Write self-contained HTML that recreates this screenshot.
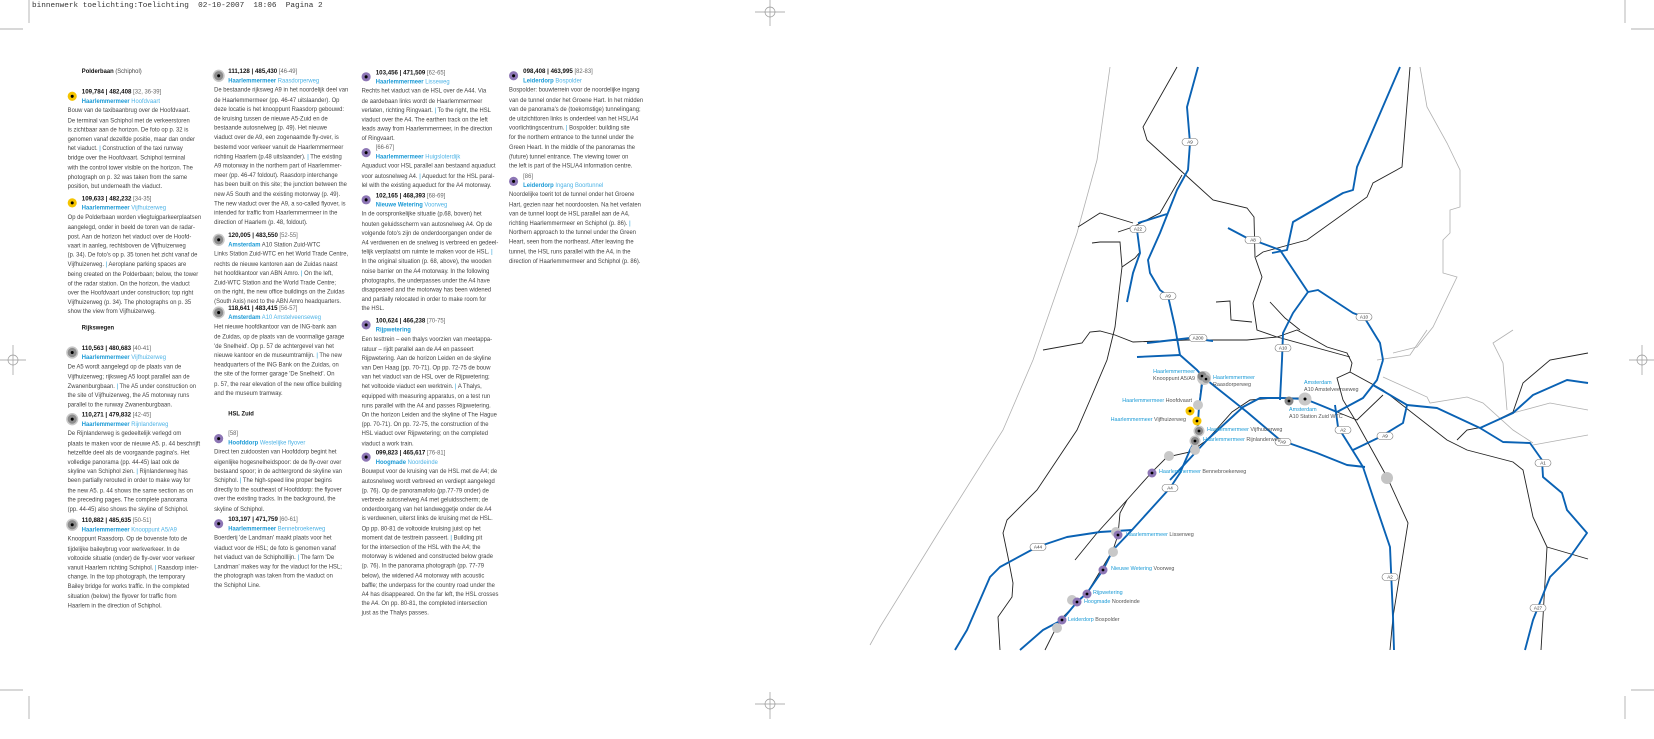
<!DOCTYPE html>
<html><head><meta charset="utf-8"><style>
html,body{margin:0;padding:0;background:#fff;}
body{width:1654px;height:719px;position:relative;overflow:hidden;font-family:"Liberation Sans",sans-serif;}
.hdr{position:absolute;left:32px;top:2px;font:7.7px "Liberation Mono",monospace;color:#333;white-space:pre;}
.txt{position:absolute;left:0;top:0;width:700px;height:719px;transform-origin:0 60px;transform:translate(0,4px) scale(1.01,1.025);}
.blk{position:absolute;font-size:5.8px;line-height:9.2px;color:#444;white-space:nowrap;}
.h{padding-left:14px;}
.h b{color:#111;font-size:6.1px;}
.br{color:#666;}
.nm{color:#1a9ad6;font-weight:bold;}
.lc{color:#4db3e6;}
.p{color:#1a9ad6;}
.sec{color:#111;font-weight:bold;}
.dot{position:absolute;left:0;top:4.4px;width:9px;height:9px;border-radius:50%;}
.dot::after{content:"";position:absolute;left:3px;top:3px;width:3px;height:3px;border-radius:50%;background:#000;}
.y{background:#f5c400;}
.g{background:#8c8c8c;box-shadow:0 0 0 1.5px #c8c8c8;}
.pu{background:#8d76b5;}
svg{position:absolute;left:0;top:0;}
.ml{position:absolute;font-size:5.4px;line-height:7px;white-space:nowrap;color:#555;}
.ml .n{color:#1a9ad6;}
</style></head><body>
<div class="hdr">binnenwerk toelichting:Toelichting  02-10-2007  18:06  Pagina 2</div>

<svg width="1654" height="719" viewBox="0 0 1654 719">
<g stroke="#999" stroke-width="0.7" fill="none">
<line x1="29" y1="0" x2="29" y2="23"/><line x1="0" y1="29" x2="23" y2="29"/>
<line x1="1625" y1="0" x2="1625" y2="23"/><line x1="1631" y1="29" x2="1654" y2="29"/>
<line x1="29" y1="696" x2="29" y2="719"/><line x1="0" y1="690" x2="23" y2="690"/>
<line x1="1625" y1="696" x2="1625" y2="719"/><line x1="1631" y1="690" x2="1654" y2="690"/>
<circle cx="13" cy="360" r="5"/><line x1="0" y1="360" x2="26" y2="360"/><line x1="13" y1="345" x2="13" y2="375"/>
<circle cx="1642" cy="360" r="5"/><line x1="1629" y1="360" x2="1654" y2="360"/><line x1="1642" y1="345" x2="1642" y2="375"/>
<circle cx="770" cy="12" r="5"/><line x1="755" y1="12" x2="785" y2="12"/><line x1="770" y1="0" x2="770" y2="26"/>
<circle cx="770" cy="704" r="5"/><line x1="755" y1="704" x2="785" y2="704"/><line x1="770" y1="692" x2="770" y2="719"/>
</g>
<g stroke="#b0b0b0" stroke-width="0.8" fill="none">
<polyline points="1110,67 1097,160 1077,233 1033,360 1003,430 940,530 880,627 870,645"/>
<polyline points="1420,67 1427,107 1447,143 1460,170 1460,207 1450,210 1450,233 1443,240 1443,273 1457,277 1433,327 1417,347 1393,353"/>
<polyline points="1377,360 1410,355 1427,330"/>
<polyline points="1383,377 1427,397 1430,403 1467,397 1483,403 1513,430 1533,443"/>
<polyline points="1513,330 1493,343 1503,363 1507,410"/>
<polyline points="1513,413 1550,403 1588,410"/>
<polyline points="1533,445 1588,435"/>
</g>
<g stroke="#222" stroke-width="0.9" fill="none">
<polyline points="1177,67 1143,127 1147,140 1180,170 1213,200 1247,208 1254,217 1255,257 1262,277 1253,303 1257,330 1277,337 1297,330 1327,347 1347,353 1352,363 1350,372 1337,378 1343,400 1357,423 1387,477 1408,523 1393,617 1390,650"/>
<polyline points="1182,175 1160,213 1133,227 1118,232"/>
<polyline points="1078,227 1100,213 1133,223"/>
<polyline points="1092,243 1100,242 1120,242 1122,267 1115,327 1107,360 1090,400 1077,430 1037,490 1007,520 1003,533 1008,557 1013,583 1012,597 998,617 1000,650"/>
<polyline points="1122,267 1135,258 1140,252"/>
<polyline points="1043,350 1082,343 1090,332 1100,331 1115,335 1133,342 1187,340 1247,340 1277,337 1350,357"/>
<polyline points="1410,67 1402,167 1373,183 1367,197 1307,240 1263,252 1256,257"/>
<polyline points="1350,372 1383,390 1447,440 1467,450 1513,462 1523,470 1533,517 1547,547 1543,617 1541,650"/>
<polyline points="1547,547 1588,559"/>
<polyline points="1457,440 1467,430 1483,427 1513,412 1523,383 1550,360 1588,353"/>
<polyline points="1337,412 1357,420 1383,395"/>
<polyline points="1216,302 1230,301 1231,320 1252,322"/>
<polyline points="1270,302 1285,318 1300,330"/>
<polyline points="1300,398 1275,398 1250,400 1232,412 1207,440 1190,452 1167,457 1152,472 1127,500 1097,533 1075,560"/>
<polyline points="1202,377 1199,407 1197,437 1195,450"/>
<polyline points="1127,500 1120,513 1118,535 1113,550 1087,593 1060,620 1045,650"/>
</g>
<g stroke="#0a62b4" stroke-width="1.9" fill="none" stroke-linejoin="round">
<polyline points="1198,67 1187,107 1190,143 1188,170 1177,190 1160,233 1148,260 1150,273 1160,290 1168,296 1175,327 1180,355 1197,370 1203,377 1247,412 1280,440 1317,453 1347,465 1365,467"/>
<polyline points="1138,223 1167,214"/>
<polyline points="1137,230 1140,253 1133,273 1127,302"/>
<polyline points="1228,228 1247,238 1253,240 1280,250 1308,292 1318,290 1353,313 1364,317 1380,343 1383,360"/>
<polyline points="1400,67 1357,167 1353,190 1343,193 1293,222 1287,250 1272,253"/>
<polyline points="1308,292 1293,313 1283,333 1282,360 1280,400"/>
<polyline points="1147,343 1190,338 1213,341"/>
<polyline points="1137,357 1180,355"/>
<polyline points="1383,360 1377,380 1363,398 1337,412"/>
<polyline points="1335,405 1338,427 1363,467 1373,497 1390,547 1393,617 1394,650"/>
<polyline points="1353,450 1380,437 1403,423 1407,405 1437,408 1480,428 1503,442 1530,443 1542,460 1543,477 1562,493 1567,510 1587,533 1570,557 1550,577 1533,620 1525,650"/>
<polyline points="1373,385 1407,405"/>
<polyline points="1480,428 1513,413 1533,395 1567,380 1588,383"/>
<polyline points="1203,377 1199,407 1197,437 1190,450 1180,473 1170,488 1132,530 1113,550 1103,570 1087,593 1077,602 1062,620 1043,630 1020,650"/>
<polyline points="1170,480 1207,440 1243,407 1260,398 1283,398 1305,399 1320,405 1337,412"/>
<polyline points="1132,530 1100,532 1067,537 1043,545 1037,547 1000,567 990,577 967,630 955,650"/>
</g>
<g font-family="Liberation Sans, sans-serif" font-size="4.6" text-anchor="middle" fill="#333">
<g transform="translate(1190,142)"><rect x="-8" y="-3.5" width="16" height="7" rx="3.5" fill="#fff" stroke="#777" stroke-width="0.6"/><text y="1.7">A9</text></g>
<g transform="translate(1138,229)"><rect x="-8" y="-3.5" width="16" height="7" rx="3.5" fill="#fff" stroke="#777" stroke-width="0.6"/><text y="1.7">A22</text></g>
<g transform="translate(1253,240)"><rect x="-8" y="-3.5" width="16" height="7" rx="3.5" fill="#fff" stroke="#777" stroke-width="0.6"/><text y="1.7">A8</text></g>
<g transform="translate(1168,296)"><rect x="-8" y="-3.5" width="16" height="7" rx="3.5" fill="#fff" stroke="#777" stroke-width="0.6"/><text y="1.7">A9</text></g>
<g transform="translate(1364,317)"><rect x="-8" y="-3.5" width="16" height="7" rx="3.5" fill="#fff" stroke="#777" stroke-width="0.6"/><text y="1.7">A10</text></g>
<g transform="translate(1198,338)"><rect x="-9" y="-3.5" width="18" height="7" rx="3.5" fill="#fff" stroke="#777" stroke-width="0.6"/><text y="1.7">A200</text></g>
<g transform="translate(1283,348)"><rect x="-8" y="-3.5" width="16" height="7" rx="3.5" fill="#fff" stroke="#777" stroke-width="0.6"/><text y="1.7">A10</text></g>
<g transform="translate(1343,430)"><rect x="-8" y="-3.5" width="16" height="7" rx="3.5" fill="#fff" stroke="#777" stroke-width="0.6"/><text y="1.7">A2</text></g>
<g transform="translate(1385,436)"><rect x="-8" y="-3.5" width="16" height="7" rx="3.5" fill="#fff" stroke="#777" stroke-width="0.6"/><text y="1.7">A9</text></g>
<g transform="translate(1283,442)"><rect x="-8" y="-3.5" width="16" height="7" rx="3.5" fill="#fff" stroke="#777" stroke-width="0.6"/><text y="1.7">A9</text></g>
<g transform="translate(1543,463)"><rect x="-8" y="-3.5" width="16" height="7" rx="3.5" fill="#fff" stroke="#777" stroke-width="0.6"/><text y="1.7">A1</text></g>
<g transform="translate(1170,488)"><rect x="-8" y="-3.5" width="16" height="7" rx="3.5" fill="#fff" stroke="#777" stroke-width="0.6"/><text y="1.7">A4</text></g>
<g transform="translate(1038,547)"><rect x="-8" y="-3.5" width="16" height="7" rx="3.5" fill="#fff" stroke="#777" stroke-width="0.6"/><text y="1.7">A44</text></g>
<g transform="translate(1390,577)"><rect x="-8" y="-3.5" width="16" height="7" rx="3.5" fill="#fff" stroke="#777" stroke-width="0.6"/><text y="1.7">A2</text></g>
<g transform="translate(1538,608)"><rect x="-8" y="-3.5" width="16" height="7" rx="3.5" fill="#fff" stroke="#777" stroke-width="0.6"/><text y="1.7">A27</text></g>
</g>
<g>
<circle cx="1387" cy="478" r="6" fill="#c4c4c4"/>
<circle cx="1198" cy="405" r="5" fill="#c8c8c8"/>
<circle cx="1195" cy="450" r="5" fill="#c8c8c8"/>
<circle cx="1169" cy="456" r="5" fill="#c8c8c8"/>
<circle cx="1116" cy="532" r="5" fill="#c8c8c8"/>
<circle cx="1113" cy="552" r="5" fill="#c8c8c8"/>
<circle cx="1072" cy="600" r="5" fill="#c8c8c8"/>
<circle cx="1057" cy="628" r="5" fill="#c8c8c8"/>
<circle cx="1204" cy="378" r="7" fill="#c8c8c8"/><circle cx="1202" cy="376" r="4.5" fill="#888"/><circle cx="1206" cy="379" r="4" fill="#999"/><circle cx="1206" cy="379" r="1.3" fill="#000"/><circle cx="1202" cy="376" r="1.3" fill="#000"/>
<circle cx="1190" cy="411" r="4.5" fill="#f5c400"/><circle cx="1190" cy="411" r="1.4" fill="#000"/>
<circle cx="1197" cy="421" r="4.5" fill="#f5c400"/><circle cx="1197" cy="421" r="1.4" fill="#000"/>
<circle cx="1199" cy="431" r="5.5" fill="#c8c8c8"/><circle cx="1199" cy="431" r="4" fill="#888"/><circle cx="1199" cy="431" r="1.4" fill="#000"/>
<circle cx="1195" cy="441" r="5.5" fill="#c8c8c8"/><circle cx="1195" cy="441" r="4" fill="#888"/><circle cx="1195" cy="441" r="1.4" fill="#000"/>
<circle cx="1289" cy="401" r="4.5" fill="#888"/><circle cx="1289" cy="401" r="1.4" fill="#000"/>
<circle cx="1305" cy="399" r="6.5" fill="#c8c8c8"/><circle cx="1305" cy="399" r="1.5" fill="#000"/>
<circle cx="1152" cy="473" r="4.5" fill="#8d76b5"/><circle cx="1152" cy="473" r="1.4" fill="#000"/>
<circle cx="1118" cy="535" r="4.5" fill="#8d76b5"/><circle cx="1118" cy="535" r="1.4" fill="#000"/>
<circle cx="1103" cy="570" r="4.5" fill="#8d76b5"/><circle cx="1103" cy="570" r="1.4" fill="#000"/>
<circle cx="1087" cy="594" r="4.5" fill="#8d76b5"/><circle cx="1087" cy="594" r="1.4" fill="#000"/>
<circle cx="1077" cy="602" r="4.5" fill="#8d76b5"/><circle cx="1077" cy="602" r="1.4" fill="#000"/>
<circle cx="1062" cy="620" r="4.5" fill="#8d76b5"/><circle cx="1062" cy="620" r="1.4" fill="#000"/>
</g>
</svg>

<div class="ml" style="left:1110px;top:369px;text-align:right;width:85px"><span class="n">Haarlemmermeer</span><br>Knooppunt A5/A9</div>
<div class="ml" style="left:1213px;top:375px"><span class="n">Haarlemmermeer</span><br>Raasdorperweg</div>
<div class="ml" style="left:1092px;top:398px;text-align:right;width:100px"><span class="n">Haarlemmermeer</span> Hoofdvaart</div>
<div class="ml" style="left:1069px;top:417px;text-align:right;width:117px"><span class="n">Haarlemmermeer</span> Vijfhuizerweg</div>
<div class="ml" style="left:1207px;top:427px"><span class="n">Haarlemmermeer</span> Vijfhuizerweg</div>
<div class="ml" style="left:1203px;top:437px"><span class="n">Haarlemmermeer</span> Rijnlanderweg</div>
<div class="ml" style="left:1159px;top:469px"><span class="n">Haarlemmermeer</span> Bennebroekerweg</div>
<div class="ml" style="left:1304px;top:380px"><span class="n">Amsterdam</span><br>A10 Amstelveenseweg</div>
<div class="ml" style="left:1289px;top:407px"><span class="n">Amsterdam</span><br>A10 Station Zuid WTC</div>
<div class="ml" style="left:1126px;top:532px"><span class="n">Haarlemmermeer</span> Lisserweg</div>
<div class="ml" style="left:1111px;top:566px"><span class="n">Nieuwe Wetering</span> Voorweg</div>
<div class="ml" style="left:1093px;top:590px"><span class="n">Rijpwetering</span></div>
<div class="ml" style="left:1084px;top:599px"><span class="n">Hoogmade</span> Noordeinde</div>
<div class="ml" style="left:1068px;top:617px"><span class="n">Leiderdorp</span> Bospolder</div>

<div class="txt">
<div class="blk" style="left:67px;top:64px"><div class="h"><span class="sec">Polderbaan</span> (Schiphol)</div></div>
<div class="blk" style="left:67px;top:83px">
<i class="dot y"></i>
<div class="h"><b>109,784 | 482,408</b> <span class="br">[32, 36-39]</span></div>
<div class="h"><span class="nm">Haarlemmermeer</span> <span class="lc">Hoofdvaart</span></div>
Bouw van de taxibaanbrug over de Hoofdvaart.<br>De terminal van Schiphol met de verkeerstoren<br>is zichtbaar aan de horizon. De foto op p. 32 is<br>genomen vanaf dezelfde positie, maar dan onder<br>het viaduct. <span class="p">|</span> Construction of the taxi runway<br>bridge over the Hoofdvaart. Schiphol terminal<br>with the control tower visible on the horizon. The<br>photograph on p. 32 was taken from the same<br>position, but underneath the viaduct.</div>
<div class="blk" style="left:67px;top:187px">
<i class="dot y"></i>
<div class="h"><b>109,633 | 482,232</b> <span class="br">[34-35]</span></div>
<div class="h"><span class="nm">Haarlemmermeer</span> <span class="lc">Vijfhuizerweg</span></div>
Op de Polderbaan worden vliegtuigparkeerplaatsen<br>aangelegd, onder in beeld de toren van de radar-<br>post. Aan de horizon het viaduct over de Hoofd-<br>vaart in aanleg, rechtsboven de Vijfhuizerweg<br>(p. 34). De foto's op p. 35 tonen het zicht vanaf de<br>Vijfhuizerweg. <span class="p">|</span> Aeroplane parking spaces are<br>being created on the Polderbaan; below, the tower<br>of the radar station. On the horizon, the viaduct<br>over the Hoofdvaart under construction; top right<br>Vijfhuizerweg (p. 34). The photographs on p. 35<br>show the view from Vijfhuizerweg.</div>
<div class="blk" style="left:67px;top:314px"><div class="h"><span class="sec">Rijkswegen</span></div></div>
<div class="blk" style="left:67px;top:333px">
<i class="dot g"></i>
<div class="h"><b>110,563 | 480,683</b> <span class="br">[40-41]</span></div>
<div class="h"><span class="nm">Haarlemmermeer</span> <span class="lc">Vijfhuizerweg</span></div>
De A5 wordt aangelegd op de plaats van de<br>Vijfhuizerweg; rijksweg A5 loopt parallel aan de<br>Zwanenburgbaan. <span class="p">|</span> The A5 under construction on<br>the site of Vijfhuizerweg, the A5 motorway runs<br>parallel to the runway Zwanenburgbaan.</div>
<div class="blk" style="left:67px;top:398px">
<i class="dot g"></i>
<div class="h"><b>110,271 | 479,832</b> <span class="br">[42-45]</span></div>
<div class="h"><span class="nm">Haarlemmermeer</span> <span class="lc">Rijnlanderweg</span></div>
De Rijnlanderweg is gedeeltelijk verlegd om<br>plaats te maken voor de nieuwe A5. p. 44 beschrijft<br>hetzelfde deel als de voorgaande pagina's. Het<br>volledige panorama (pp. 44-45) laat ook de<br>skyline van Schiphol zien. <span class="p">|</span> Rijnlanderweg has<br>been partially rerouted in order to make way for<br>the new A5. p. 44 shows the same section as on<br>the preceding pages. The complete panorama<br>(pp. 44-45) also shows the skyline of Schiphol.</div>
<div class="blk" style="left:67px;top:501px">
<i class="dot g"></i>
<div class="h"><b>110,882 | 485,635</b> <span class="br">[50-51]</span></div>
<div class="h"><span class="nm">Haarlemmermeer</span> <span class="lc">Knooppunt A5/A9</span></div>
Knooppunt Raasdorp. Op de bovenste foto de<br>tijdelijke baileybrug voor werkverkeer. In de<br>voltooide situatie (onder) de fly-over voor verkeer<br>vanuit Haarlem richting Schiphol. <span class="p">|</span> Raasdorp inter-<br>change. In the top photograph, the temporary<br>Bailey bridge for works traffic. In the completed<br>situation (below) the flyover for traffic from<br>Haarlem in the direction of Schiphol.</div>

<div class="blk" style="left:212px;top:63px">
<i class="dot g"></i>
<div class="h"><b>111,128 | 485,430</b> <span class="br">[46-49]</span></div>
<div class="h"><span class="nm">Haarlemmermeer</span> <span class="lc">Raasdorperweg</span></div>
De bestaande rijksweg A9 in het noordelijk deel van<br>de Haarlemmermeer (pp. 46-47 uitslaander). Op<br>deze locatie is het knooppunt Raasdorp gebouwd:<br>de kruising tussen de nieuwe A5-Zuid en de<br>bestaande autosnelweg (p. 49). Het nieuwe<br>viaduct over de A9, een zogenaamde fly-over, is<br>bestemd voor verkeer vanuit de Haarlemmermeer<br>richting Haarlem (p.48 uitslaander). <span class="p">|</span> The existing<br>A9 motorway in the northern part of Haarlemmer-<br>meer (pp. 46-47 foldout). Raasdorp interchange<br>has been built on this site; the junction between the<br>new A5 South and the existing motorway (p. 49).<br>The new viaduct over the A9, a so-called flyover, is<br>intended for traffic from Haarlemmermeer in the<br>direction of Haarlem (p. 48, foldout).</div>
<div class="blk" style="left:212px;top:223px">
<i class="dot g"></i>
<div class="h"><b>120,005 | 483,550</b> <span class="br">[52-55]</span></div>
<div class="h"><span class="nm">Amsterdam</span> A10 Station Zuid-WTC</div>
Links Station Zuid-WTC en het World Trade Centre,<br>rechts de nieuwe kantoren aan de Zuidas naast<br>het hoofdkantoor van ABN Amro. <span class="p">|</span> On the left,<br>Zuid-WTC Station and the World Trade Centre;<br>on the right, the new office buildings on the Zuidas<br>(South Axis) next to the ABN Amro headquarters.</div>
<div class="blk" style="left:212px;top:294px">
<i class="dot g"></i>
<div class="h"><b>118,641 | 483,415</b> <span class="br">[56-57]</span></div>
<div class="h"><span class="nm">Amsterdam</span> <span class="lc">A10 Amstelveenseweg</span></div>
Het nieuwe hoofdkantoor van de ING-bank aan<br>de Zuidas, op de plaats van de voormalige garage<br>'de Snelheid'. Op p. 57 de achtergevel van het<br>nieuwe kantoor en de museumtramlijn. <span class="p">|</span> The new<br>headquarters of the ING Bank on the Zuidas, on<br>the site of the former garage 'De Snelheid'. On<br>p. 57, the rear elevation of the new office building<br>and the museum tramway.</div>
<div class="blk" style="left:212px;top:398px"><div class="h"><span class="sec">HSL Zuid</span></div></div>
<div class="blk" style="left:212px;top:417px">
<i class="dot pu"></i>
<div class="h"><span class="br">[58]</span></div>
<div class="h"><span class="nm">Hoofddorp</span> <span class="lc">Westelijke flyover</span></div>
Direct ten zuidoosten van Hoofddorp begint het<br>eigenlijke hogesnelheidspoor: de de fly-over over<br>bestaand spoor; in de achtergrond de skyline van<br>Schiphol. <span class="p">|</span> The high-speed line proper begins<br>directly to the southeast of Hoofddorp: the flyover<br>over the existing tracks. In the background, the<br>skyline of Schiphol.</div>
<div class="blk" style="left:212px;top:500px">
<i class="dot pu"></i>
<div class="h"><b>103,197 | 471,759</b> <span class="br">[60-61]</span></div>
<div class="h"><span class="nm">Haarlemmermeer</span> <span class="lc">Bennebroekerweg</span></div>
Boerderij 'de Landman' maakt plaats voor het<br>viaduct voor de HSL; de foto is genomen vanaf<br>het viaduct van de Schipholllijn. <span class="p">|</span> The farm 'De<br>Landman' makes way for the viaduct for the HSL;<br>the photograph was taken from the viaduct on<br>the Schiphol Line.</div>

<div class="blk" style="left:358px;top:64px">
<i class="dot pu"></i>
<div class="h"><b>103,456 | 471,509</b> <span class="br">[62-65]</span></div>
<div class="h"><span class="nm">Haarlemmermeer</span> <span class="lc">Lisseweg</span></div>
Rechts het viaduct van de HSL over de A44. Via<br>de aardebaan links wordt de Haarlemmermeer<br>verlaten, richting Ringvaart. <span class="p">|</span> To the right, the HSL<br>viaduct over the A4. The earthen track on the left<br>leads away from Haarlemmermeer, in the direction<br>of Ringvaart.</div>
<div class="blk" style="left:358px;top:138px">
<i class="dot pu"></i>
<div class="h"><span class="br">[66-67]</span></div>
<div class="h"><span class="nm">Haarlemmermeer</span> <span class="lc">Huigsloterdijk</span></div>
Aquaduct voor HSL parallel aan bestaand aquaduct<br>voor autosnelweg A4. <span class="p">|</span> Aqueduct for the HSL paral-<br>lel with the existing aqueduct for the A4 motorway.</div>
<div class="blk" style="left:358px;top:184px">
<i class="dot pu"></i>
<div class="h"><b>102,165 | 468,393</b> <span class="br">[68-69]</span></div>
<div class="h"><span class="nm">Nieuwe Wetering</span> <span class="lc">Voorweg</span></div>
In de oorspronkelijke situatie (p.68, boven) het<br>houten geluidsscherm van autosnelweg A4. Op de<br>volgende foto's zijn de onderdoorgangen onder de<br>A4 verdwenen en de snelweg is verbreed en gedeel-<br>telijk verplaatst om ruimte te maken voor de HSL. <span class="p">|</span><br>In the original situation (p. 68, above), the wooden<br>noise barrier on the A4 motorway. In the following<br>photographs, the underpasses under the A4 have<br>disappeared and the motorway has been widened<br>and partially relocated in order to make room for<br>the HSL.</div>
<div class="blk" style="left:358px;top:306px">
<i class="dot pu"></i>
<div class="h"><b>100,624 | 466,238</b> <span class="br">[70-75]</span></div>
<div class="h"><span class="nm">Rijpwetering</span></div>
Een testtrein – een thalys voorzien van meetappa-<br>ratuur – rijdt parallel aan de A4 en passeert<br>Rijpwetering. Aan de horizon Leiden en de skyline<br>van Den Haag (pp. 70-71). Op pp. 72-75 de bouw<br>van het viaduct van de HSL over de Rijpwetering;<br>het voltooide viaduct een werktrein. <span class="p">|</span> A Thalys,<br>equipped with measuring apparatus, on a test run<br>runs parallel with the A4 and passes Rijpwetering.<br>On the horizon Leiden and the skyline of The Hague<br>(pp. 70-71). On pp. 72-75, the construction of the<br>HSL viaduct over Rijpwetering; on the completed<br>viaduct a work train.</div>
<div class="blk" style="left:358px;top:435px">
<i class="dot pu"></i>
<div class="h"><b>099,823 | 465,617</b> <span class="br">[76-81]</span></div>
<div class="h"><span class="nm">Hoogmade</span> <span class="lc">Noordeinde</span></div>
Bouwput voor de kruising van de HSL met de A4; de<br>autosnelweg wordt verbreed en verdiept aangelegd<br>(p. 76). Op de panoramafoto (pp.77-79 onder) de<br>verbrede autosnelweg A4 met geluidsscherm; de<br>onderdoorgang van het landweggetje onder de A4<br>is verdwenen, uiterst links de kruising met de HSL.<br>Op pp. 80-81 de voltooide kruising juist op het<br>moment dat de testtrein passeert. <span class="p">|</span> Building pit<br>for the intersection of the HSL with the A4; the<br>motorway is widened and constructed below grade<br>(p. 76). In the panorama photograph (pp. 77-79<br>below), the widened A4 motorway with acoustic<br>baffle; the underpass for the country road under the<br>A4 has disappeared. On the far left, the HSL crosses<br>the A4. On pp. 80-81, the completed intersection<br>just as the Thalys passes.</div>

<div class="blk" style="left:504px;top:63px">
<i class="dot pu"></i>
<div class="h"><b>098,408 | 463,995</b> <span class="br">[82-83]</span></div>
<div class="h"><span class="nm">Leiderdorp</span> <span class="lc">Bospolder</span></div>
Bospolder: bouwterrein voor de noordelijke ingang<br>van de tunnel onder het Groene Hart. In het midden<br>van de panorama's de (toekomstige) tunnelingang;<br>de uitzichttoren links is onderdeel van het HSL/A4<br>voorlichtingscentrum. <span class="p">|</span> Bospolder: building site<br>for the northern entrance to the tunnel under the<br>Green Heart. In the middle of the panoramas the<br>(future) tunnel entrance. The viewing tower on<br>the left is part of the HSL/A4 information centre.</div>
<div class="blk" style="left:504px;top:166px">
<i class="dot pu"></i>
<div class="h"><span class="br">[86]</span></div>
<div class="h"><span class="nm">Leiderdorp</span> <span class="lc">Ingang Boortunnel</span></div>
Noordelijke toerit tot de tunnel onder het Groene<br>Hart, gezien naar het noordoosten. Na het verlaten<br>van de tunnel loopt de HSL parallel aan de A4,<br>richting Haarlemmermeer en Schiphol (p. 86). <span class="p">|</span><br>Northern approach to the tunnel under the Green<br>Heart, seen from the northeast. After leaving the<br>tunnel, the HSL runs parallel with the A4, in the<br>direction of Haarlemmermeer and Schiphol (p. 86).</div>
</div>
</body></html>
